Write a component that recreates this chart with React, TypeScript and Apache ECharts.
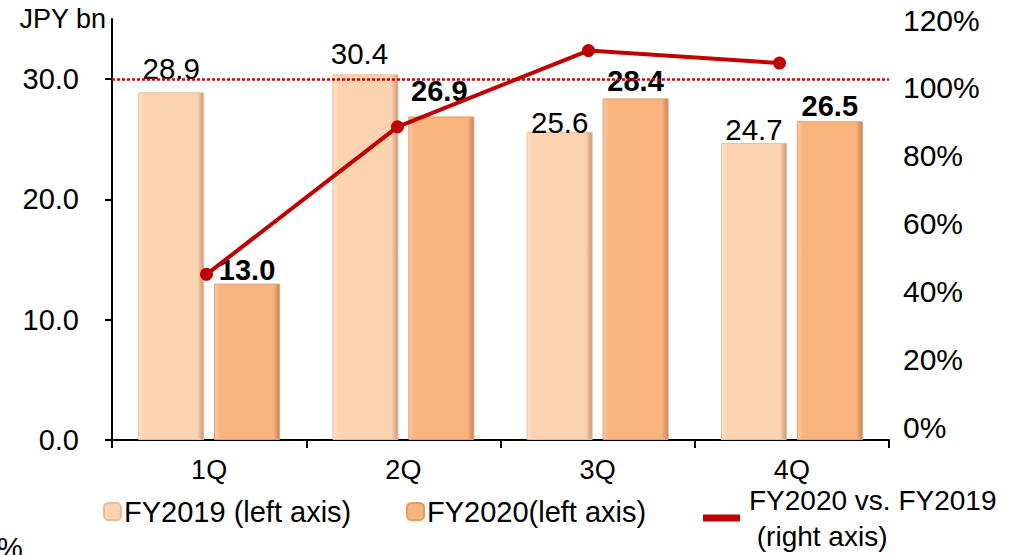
import React, { useEffect, useRef } from "react";
import * as echarts from "echarts";

const categories = ["1Q", "2Q", "3Q", "4Q"];
const fy2019 = [28.9, 30.4, 25.6, 24.7];
const fy2020 = [13.0, 26.9, 28.4, 26.5];
const ratio = [0.45, 0.885, 1.11, 1.073];
const leftTicks = [0, 10, 20, 30];
const refLevel = 30;

// label nudges [dx, dy] (presentation only)
const nudge2019 = [[0, -9], [-6, -6], [0, 5], [0, 2]];
const nudge2020 = [[0, 1], [-2, -11], [0, -3], [0, -1]];

const FONT = "Arial, 'Liberation Sans', sans-serif";

function barGrad(light: string, base: string, dark: string) {
  return new echarts.graphic.LinearGradient(0, 0, 1, 0, [
    { offset: 0, color: light },
    { offset: 0.09, color: base },
    { offset: 0.9, color: base },
    { offset: 1, color: dark },
  ]);
}

export default function App() {
  const ref = useRef<HTMLDivElement>(null);
  useEffect(() => {
    if (!ref.current) return;
    const chart = echarts.init(ref.current, undefined, { renderer: "svg" });
    const c19 = barGrad("#fde3cc", "#fcd3b0", "#c9967a");
    const c20 = barGrad("#fcc9a0", "#f9b47e", "#c88458");
    chart.setOption({
      animation: false,
      backgroundColor: "#ffffff",
      textStyle: { fontFamily: FONT, color: "#000" },
      grid: [
        { left: 112, right: 147, top: 19, bottom: 115, containLabel: false },
        { left: 111, right: 161, top: 20, bottom: 128, containLabel: false },
      ],
      xAxis: [
        {
          type: "category",
          gridIndex: 0,
          data: categories,
          axisLine: { lineStyle: { color: "#000", width: 2 } },
          axisTick: { show: true, length: 8, lineStyle: { color: "#000", width: 2 } },
          axisLabel: { fontSize: 27, color: "#000", margin: 16, fontFamily: FONT },
        },
        { type: "category", gridIndex: 1, data: categories, show: false },
      ],
      yAxis: [
        {
          type: "value",
          gridIndex: 0,
          min: 0,
          max: 35,
          interval: 10,
          name: "JPY bn",
          nameLocation: "end",
          nameGap: 0,
          nameTextStyle: {
            fontSize: 27,
            color: "#000",
            align: "right",
            verticalAlign: "middle",
            padding: [0, 6, 0, 0],
            fontFamily: FONT,
          },
          axisLine: { show: true, lineStyle: { color: "#000", width: 2 } },
          axisTick: { show: true, length: 7, customValues: leftTicks, lineStyle: { color: "#000", width: 2 } },
          axisLabel: {
            fontSize: 29,
            color: "#000",
            margin: 33,
            fontFamily: FONT,
            customValues: leftTicks,
            formatter: (v: number) => (v > 30 ? "" : v.toFixed(1)),
          },
          splitLine: { show: false },
        },
        {
          type: "value",
          gridIndex: 1,
          position: "right",
          min: 0,
          max: 1.2,
          interval: 0.2,
          axisLine: { show: false },
          axisTick: { show: false },
          splitLine: { show: false },
          axisLabel: {
            fontSize: 30,
            color: "#000",
            margin: 28,
            fontFamily: FONT,
            formatter: (v: number) => Math.round(v * 100) + "%",
          },
        },
      ],
      legend: [
        {
          data: ["FY2019 (left axis)"],
          left: 103,
          top: 497,
          itemWidth: 17,
          itemHeight: 17,
          padding: 0,
          textStyle: { fontSize: 29, color: "#000", fontFamily: FONT, padding: [0, 0, 0, -2] },
        },
        {
          data: ["FY2020(left axis)"],
          left: 406,
          top: 497,
          itemWidth: 17,
          itemHeight: 17,
          padding: 0,
          textStyle: { fontSize: 29, color: "#000", fontFamily: FONT, padding: [0, 0, 0, -2] },
        },
        {
          data: [{ name: "FY2020 vs. FY2019\n (right axis)", icon: "rect" }],
          left: 703,
          top: 482,
          itemWidth: 37,
          itemHeight: 7,
          padding: 0,
          textStyle: {
            fontSize: 28,
            color: "#000",
            fontFamily: FONT,
            lineHeight: 36,
            padding: [0, 0, 0, 4],
          },
        },
      ],
      series: [
        {
          name: "FY2019 (left axis)",
          type: "bar",
          xAxisIndex: 0,
          yAxisIndex: 0,
          barWidth: 66,
          barGap: "15%",
          itemStyle: { color: c19, borderColor: "#e8bc98", borderWidth: 1 },
          data: fy2019.map((v, i) => ({
            value: v,
            label: { offset: nudge2019[i] },
          })),
          label: {
            show: true,
            position: "top",
            distance: 0,
            fontSize: 29.5,
            color: "#000",
            fontFamily: FONT,
            formatter: (p: any) => Number(p.value).toFixed(1),
          },
          markLine: {
            silent: true,
            symbol: "none",
            label: { show: false },
            lineStyle: { type: [3, 2], color: "#d40000", width: 2.5 },
            data: [{ yAxis: refLevel }],
          },
          z: 2,
        },
        {
          name: "FY2020(left axis)",
          type: "bar",
          xAxisIndex: 0,
          yAxisIndex: 0,
          barWidth: 66,
          barGap: "15%",
          itemStyle: { color: c20, borderColor: "#e39d68", borderWidth: 1 },
          data: fy2020.map((v, i) => ({
            value: v,
            label: { offset: nudge2020[i] },
          })),
          label: {
            show: true,
            position: "top",
            distance: 0,
            fontSize: 29,
            fontWeight: "bold",
            color: "#000",
            fontFamily: FONT,
            formatter: (p: any) => Number(p.value).toFixed(1),
          },
          z: 2,
        },
        {
          name: "FY2020 vs. FY2019\n (right axis)",
          type: "line",
          xAxisIndex: 1,
          yAxisIndex: 1,
          data: ratio,
          symbol: "circle",
          symbolSize: 13,
          lineStyle: { color: "#c00000", width: 4 },
          itemStyle: { color: "#c00000" },
          z: 5,
        },
      ],
      graphic: [
        {
          type: "text",
          left: -3,
          top: 533,
          style: { text: "%", fontSize: 29, fill: "#000", fontFamily: FONT },
        },
      ],
    });
    return () => chart.dispose();
  }, []);
  return (
    <div
      ref={ref}
      style={{ position: "fixed", left: 0, top: 0, width: 1036, height: 555, background: "#fff" }}
    />
  );
}
